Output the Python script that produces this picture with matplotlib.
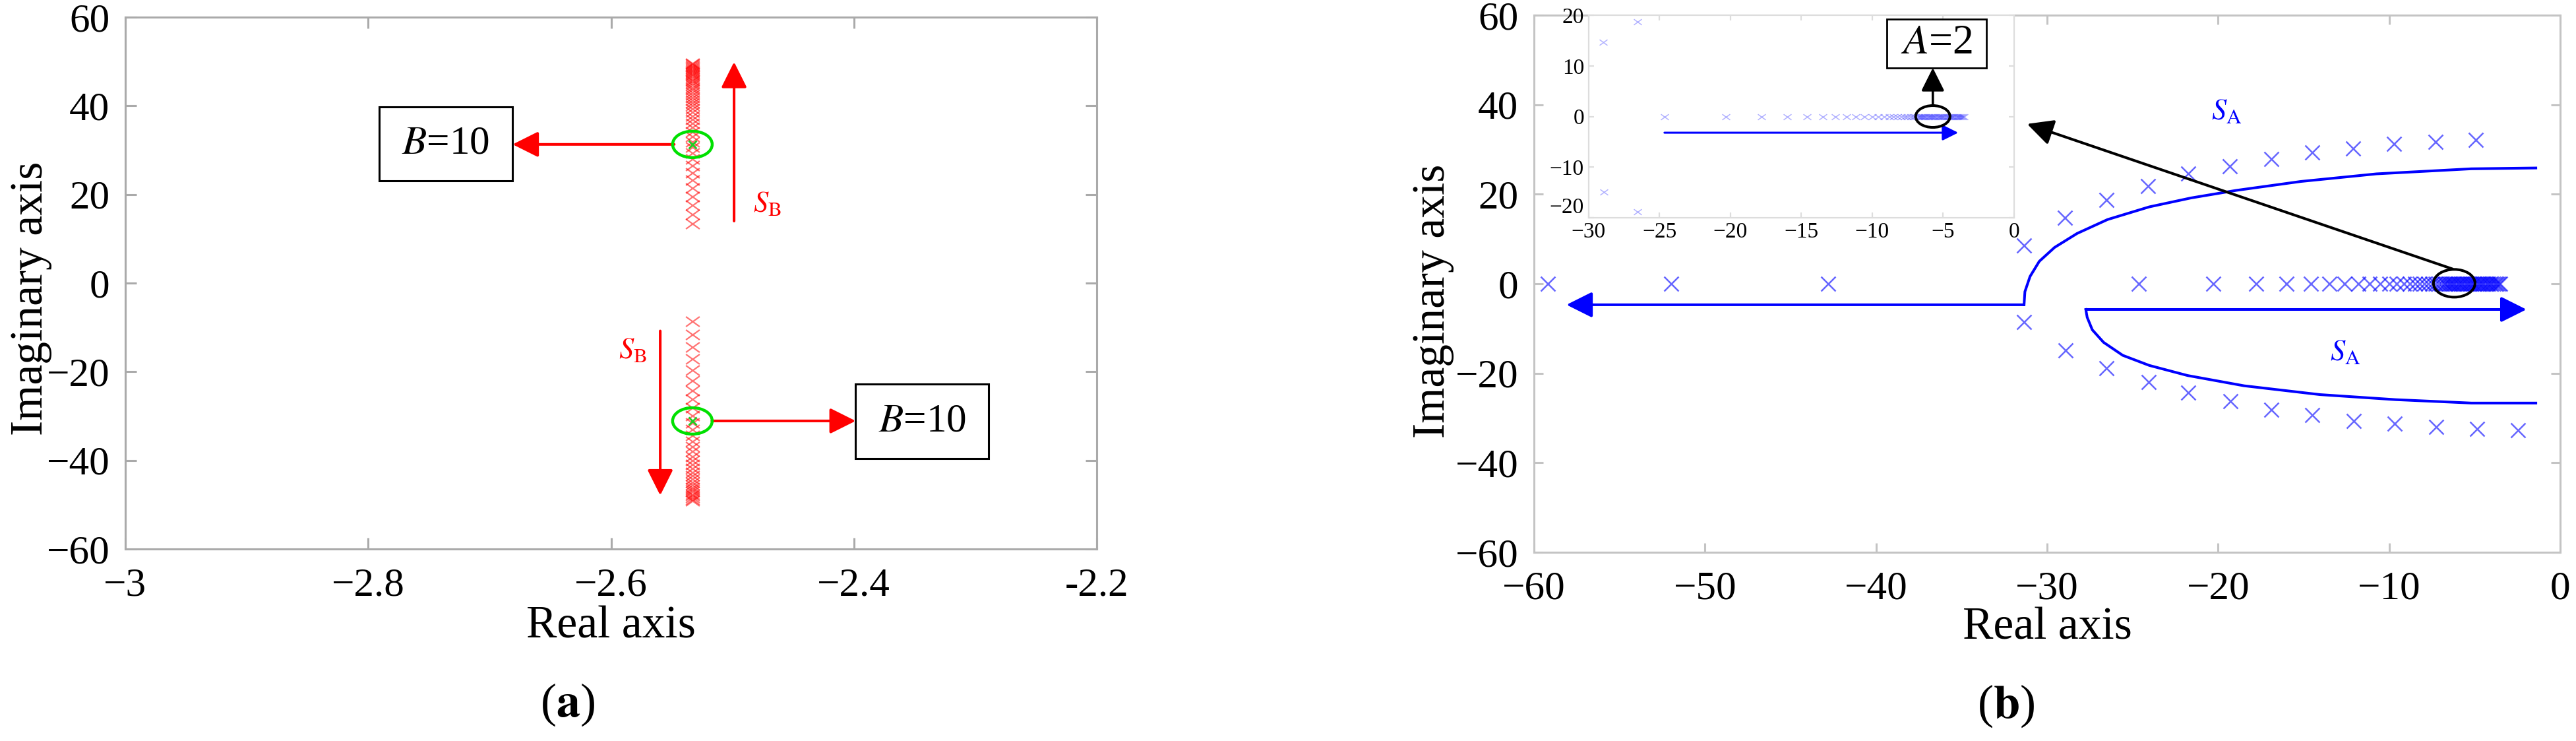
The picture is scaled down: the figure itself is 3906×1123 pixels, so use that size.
import matplotlib
matplotlib.use('Agg')
import matplotlib.pyplot as plt
from matplotlib.patches import Ellipse, Rectangle
from matplotlib.path import Path

plt.rcParams['font.family'] = ['Liberation Serif', 'DejaVu Serif']
plt.rcParams['mathtext.fontset'] = 'stix'

# ---------- (a): poles as B changes ----------
re_a = -2.533
im_a_up = [13.4, 15.5, 17.6, 19.5, 21.4, 23.2, 24.9, 26.5, 28.0, 29.4, 30.7, 31.9, 33.0,
           34.1, 35.1, 36.0, 36.9, 37.7, 38.5, 39.3, 40.0, 40.7, 41.3, 41.9, 42.5, 43.1,
           43.6, 44.1, 44.6, 45.1, 45.5, 45.9, 46.3, 46.7, 47.1, 47.4, 47.7, 48.0, 48.3,
           48.6, 48.9, 49.2, 49.4, 49.6]
im_a_dn = [-8.7, -11.6, -14.5, -17.1, -19.6, -22.0, -24.2, -26.2, -28.1, -29.9, -31.5,
           -33.0, -34.4, -35.7, -36.9, -38.0, -39.1, -40.1, -41.0, -41.9, -42.7, -43.5,
           -44.2, -44.9, -45.5, -46.1, -46.6, -47.1, -47.6, -48.0, -48.4, -48.8, -49.1]
im_b10 = [31.3, -31.1]
xticks_a = [-3, -2.8, -2.6, -2.4, -2.2]
xticklabels_a = ['\u22123', '\u22122.8', '\u22122.6', '\u22122.4', '-2.2']
yticks = [-60, -40, -20, 0, 20, 40, 60]

# ---------- (b): poles as A changes ----------
re_b_axis = [-59.2, -52.0, -42.8, -24.66, -20.3, -17.8, -16.0, -14.6, -13.5, -12.6, -11.8,
             -11.15, -10.55, -10.0, -9.55, -9.15, -8.8, -8.5, -8.2, -7.95, -7.7, -7.5, -7.3,
             -7.1, -6.95, -6.8, -6.7, -6.6, -6.5, -6.4, -6.3, -6.2, -6.1, -6.0, -5.9, -5.8,
             -5.7, -5.6, -5.5, -5.4, -5.3, -5.2, -5.1, -5.0, -4.9, -4.8, -4.7, -4.6, -4.5,
             -4.4, -4.3, -4.2, -4.1, -4.0, -3.9, -3.8, -3.7, -3.6, -3.5]
re_b_up = [-31.35, -28.95, -26.53, -24.11, -21.74, -19.32, -16.9, -14.52, -12.1, -9.73, -7.31, -4.93]
im_b_up = [8.5, 14.7, 18.7, 21.8, 24.6, 26.2, 27.9, 29.3, 30.2, 31.2, 31.7, 32.2]
re_b_dn = [-31.35, -28.92, -26.53, -24.08, -21.74, -19.3, -16.9, -14.5, -12.06, -9.67, -7.25, -4.86, -2.47]
im_b_dn = [-8.6, -14.9, -18.8, -21.9, -24.4, -26.3, -28.2, -29.3, -30.6, -31.3, -32.0, -32.4, -32.7]

# root-locus sketch curves
up_curve_x = [-31.35, -31.3, -31.0, -30.46, -29.57, -28.25, -26.47, -24.03, -21.6, -18.94,
              -15.17, -10.74, -5.2, -1.43]
up_curve_y = [-4.7, -1.77, 1.62, 5.0, 8.1, 11.23, 14.34, 17.17, 19.16, 20.86, 22.85, 24.55,
              25.68, 25.86]
dn_curve_x = [-27.74, -27.66, -27.36, -26.7, -25.58, -24.03, -21.8, -18.49, -14.06, -9.63, -5.2, -1.43]
dn_curve_y = [-5.75, -7.5, -10.3, -13.1, -16.0, -18.25, -20.5, -22.8, -24.77, -25.9, -26.66, -26.66]
xticks_b = [-60, -50, -40, -30, -20, -10, 0]
xticks_in = [-30, -25, -20, -15, -10, -5, 0]
yticks_in = [-20, -10, 0, 10, 20]

wide_x = Path([(-1, -0.72), (1, 0.72), (-1, 0.72), (1, -0.72)],
              [Path.MOVETO, Path.LINETO, Path.MOVETO, Path.LINETO])

TICK_FS = 44
LABEL_FS = 50


def style_axes(ax, spine_col, tick_len):
    for s in ax.spines.values():
        s.set_color(spine_col)
        s.set_linewidth(2.2)
    ax.tick_params(direction='in', top=True, right=True, length=tick_len, width=2.2,
                   color=spine_col, labelsize=TICK_FS)
    ax.tick_params(axis='x', pad=20)
    ax.tick_params(axis='y', pad=17)


def arrow(ax, tail, tip, color, lw, ms):
    ax.annotate('', xy=tip, xytext=tail,
                arrowprops=dict(arrowstyle='-|>,head_length=0.8,head_width=0.4',
                                mutation_scale=ms, lw=lw, color=color,
                                shrinkA=0, shrinkB=0))


fig = plt.figure(figsize=(39.06, 11.23), dpi=100)

# ================= (a) =================
ax1 = fig.add_axes([0.0486, 0.2591, 0.3772, 0.7177])
ax1.plot([re_a] * len(im_a_up), im_a_up, ls='none', marker=wide_x, ms=15,
         mec='red', mfc='none', mew=1.6, alpha=0.55)
ax1.plot([re_a] * len(im_a_dn), im_a_dn, ls='none', marker=wide_x, ms=15,
         mec='red', mfc='none', mew=1.6, alpha=0.55)
ax1.plot([re_a] * len(im_b10), im_b10, ls='none', marker='x', ms=9, mec='#22cc22', mew=2)
for yc in im_b10:
    ax1.add_patch(Ellipse((re_a, yc), 0.0326, 5.95, fill=False, ec='#00e000', lw=3.2, zorder=5))

arrow(ax1, (-2.548, 31.3), (-2.681, 31.3), 'red', 2.9, 30)
arrow(ax1, (-2.517, -31.1), (-2.3986, -31.1), 'red', 2.9, 30)
arrow(ax1, (-2.4987, 14.0), (-2.4987, 49.9), 'red', 2.9, 30)
arrow(ax1, (-2.5595, -10.8), (-2.5595, -47.9), 'red', 2.9, 30)
ax1.text(-2.4715, 17.8, r'$S_{\rm B}$', color='red', fontsize=32, ha='center', va='center')
ax1.text(-2.582, -15.3, r'$S_{\rm B}$', color='red', fontsize=32, ha='center', va='center')

ax1.add_patch(Rectangle((-2.791, 23.06), 0.110, 16.74, fill=False, ec='black', lw=2.2, zorder=6))
ax1.add_patch(Rectangle((-2.3986, -39.6), 0.1097, 16.8, fill=False, ec='black', lw=2.2, zorder=6))
ax1.text(-2.736, 31.4, r'$B$=10', fontsize=44, ha='center', va='center')
ax1.text(-2.3437, -31.2, r'$B$=10', fontsize=44, ha='center', va='center')

ax1.set_xlim(-3, -2.2)
ax1.set_ylim(-60, 60)
ax1.set_xticks(xticks_a)
ax1.set_xticklabels(xticklabels_a)
ax1.set_yticks(yticks)
style_axes(ax1, '#aaaaaa', 12)
ax1.set_xlabel('Real axis', fontsize=LABEL_FS)
ax1.set_ylabel('Imaginary axis', fontsize=LABEL_FS)
ax1.xaxis.set_label_coords(0.5, -0.107)
ax1.yaxis.set_label_coords(-0.0754, 0.4715)

# ================= (b) =================
ax2 = fig.add_axes([0.5955, 0.2547, 0.3984, 0.7248])
ax2.plot(re_b_axis, [0] * len(re_b_axis), ls='none', marker='x', ms=16.5,
         mec='blue', mew=1.8, alpha=0.6)
ax2.plot(re_b_up, im_b_up, ls='none', marker='x', ms=16.5, mec='blue', mew=1.8, alpha=0.6)
ax2.plot(re_b_dn, im_b_dn, ls='none', marker='x', ms=16.5, mec='blue', mew=1.8, alpha=0.6)

ax2.plot(up_curve_x, up_curve_y, color='blue', lw=2.9)
ax2.plot(dn_curve_x, dn_curve_y, color='blue', lw=2.9)
arrow(ax2, (-31.35, -4.7), (-58.1, -4.7), 'blue', 2.9, 30)
arrow(ax2, (-27.74, -5.75), (-1.98, -5.75), 'blue', 2.9, 30)
ax2.text(-19.5, 38.4, r'$S_{\rm A}$', color='blue', fontsize=32, ha='center', va='center')
ax2.text(-12.57, -15.4, r'$S_{\rm A}$', color='blue', fontsize=32, ha='center', va='center')

ax2.add_patch(Ellipse((-6.2, 0.1), 2.43, 6.2, fill=False, ec='black', lw=2.9, zorder=6))
arrow(ax2, (-6.3, 3.3), (-31.17, 35.7), 'black', 2.9, 30)

ax2.set_xlim(-60, 0)
ax2.set_ylim(-60, 60)
ax2.set_xticks(xticks_b)
ax2.set_yticks(yticks)
style_axes(ax2, '#c4c4c4', 10)
ax2.set_xlabel('Real axis', fontsize=LABEL_FS)
ax2.set_ylabel('Imaginary axis', fontsize=LABEL_FS)
ax2.xaxis.set_label_coords(0.5, -0.102)
ax2.yaxis.set_label_coords(-0.078, 0.468)

# inset: zoom of the real-axis branch
ax3 = fig.add_axes([0.6167, 0.7061, 0.1651, 0.2734])
ax3.plot(re_b_axis, [0] * len(re_b_axis), ls='none', marker=wide_x, ms=8.6,
         mec='blue', mfc='none', mew=1.1, alpha=0.3)
ax3.plot(re_b_up, im_b_up, ls='none', marker=wide_x, ms=8.6, mec='blue', mfc='none', mew=1.1, alpha=0.3)
ax3.plot(re_b_dn, im_b_dn, ls='none', marker=wide_x, ms=8.6, mec='blue', mfc='none', mew=1.1, alpha=0.3)
arrow(ax3, (-24.65, -3.2), (-3.93, -3.2), 'blue', 2.2, 18)
ax3.add_patch(Ellipse((-5.72, 0), 2.42, 4.3, fill=False, ec='black', lw=2.9, zorder=6))
arrow(ax3, (-5.72, 2.2), (-5.72, 9.6), 'black', 2.6, 27)
ax3.add_patch(Rectangle((-8.98, 9.6), 7.03, 9.6, fill=False, ec='black', lw=2, zorder=6,
                        clip_on=False))
ax3.text(-5.47, 14.4, r'$A$=2', fontsize=46, ha='center', va='center')

ax3.set_xlim(-30, 0)
ax3.set_ylim(-20, 20)
ax3.set_xticks(xticks_in)
ax3.set_yticks(yticks_in)
for s in ax3.spines.values():
    s.set_color('#dddddd')
    s.set_linewidth(1.6)
ax3.tick_params(direction='in', top=True, right=True, length=6, width=1.6,
                color='#dddddd', labelsize=24)
ax3.tick_params(axis='x', pad=5)
ax3.tick_params(axis='y', pad=5)
# keep the lowest y label clear of the first x label
ax3.get_yticklabels()[0].set_verticalalignment('bottom')

fig.text(0.2204, 0.049, r'($\mathbf{a}$)', fontsize=52, ha='center', va='center')
fig.text(0.7788, 0.047, r'($\mathbf{b}$)', fontsize=52, ha='center', va='center')

fig.savefig('out.png', dpi=100)
